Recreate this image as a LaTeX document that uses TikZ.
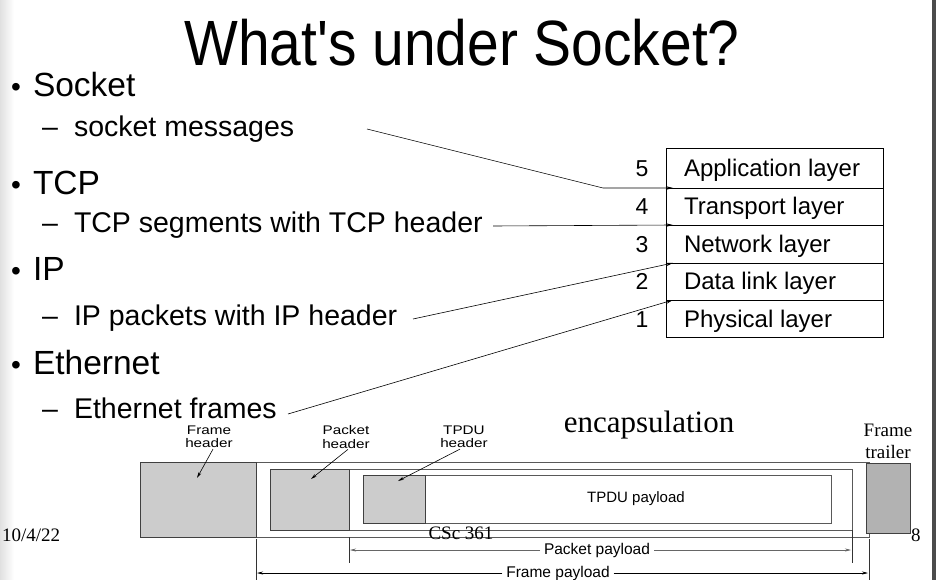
\documentclass[tikz,border=0pt]{standalone}
\usepackage{fontspec}
\usetikzlibrary{arrows.meta}
\newfontfamily\sansA{Liberation Sans}
\newfontfamily\serifT{Liberation Serif}
\newcommand\apos{{\char"0027}}

\tikzset{
  every node/.style={inner sep=0pt, outer sep=0pt},
  titletext/.style={anchor=base, xscale=0.89, font=\sansA\fontsize{64}{64}\selectfont},
  bulletmark/.style={anchor=base west, font=\sansA\fontsize{28}{28}\selectfont},
  bullettext/.style={anchor=base west, font=\sansA\fontsize{33.5}{33.5}\selectfont},
  subtext/.style={anchor=base west, font=\sansA\fontsize{28.5}{28.5}\selectfont},
  layertext/.style={anchor=base west, font=\sansA\fontsize{24}{24}\selectfont},
  layernum/.style={anchor=base, font=\sansA\fontsize{23}{23}\selectfont},
  tinylabel/.style={align=center, xscale=1.22, font=\sansA\fontsize{12.5}{13.5}\selectfont},
  dimlabel/.style={fill=white, inner xsep=4pt, font=\sansA\fontsize{15.5}{15.5}\selectfont},
  serifnote/.style={font=\serifT\fontsize{19}{19}\selectfont},
  ptr/.style={-{Stealth[length=7pt,width=3.5pt]}, line width=0.6pt},
  smallptr/.style={-{Stealth[length=6pt,width=3pt]}, line width=0.6pt},
  hdrbox/.style={draw=black!75, fill=black!20, line width=0.8pt},
  trailerbox/.style={draw=black!75, fill=black!30, line width=0.8pt},
  pduframe/.style={draw=black!65, line width=0.8pt},
  tick/.style={draw=black!80, line width=0.8pt},
}

\begin{document}
\begin{tikzpicture}[x=1pt,y=-1pt]
\useasboundingbox (0,0) rectangle (936,580);
\fill[white] (0,0) rectangle (936,580);
% slide edges
\shade[left color=black!12, right color=white] (0,0) rectangle (14,580);
\fill[black!70] (932,0) rectangle (936,580);

% title
\node[titletext] (title) at (462,66) {What\apos s under Socket?};

% bullet list
\node[bulletmark] (b1) at (11,97) {•};
\node[bullettext] (socket) at (33,97) {Socket};
\node[subtext] (d1) at (42,137) {–};
\node[subtext] (msgs) at (74,137) {socket messages};

\node[bulletmark] (b2) at (11,194) {•};
\node[bullettext] (tcp) at (33,194) {TCP};
\node[subtext] (d2) at (42,232) {–};
\node[subtext] (segs) at (74,232) {TCP segments with TCP header};

\node[bulletmark] (b3) at (11,280) {•};
\node[bullettext] (ip) at (33,280) {IP};
\node[subtext] (d3) at (42,325) {–};
\node[subtext] (pkts) at (74,325) {IP packets with IP header};

\node[bulletmark] (b4) at (11,374) {•};
\node[bullettext] (eth) at (33,374) {Ethernet};
\node[subtext] (d4) at (42,418) {–};
\node[subtext] (frames) at (74,418) {Ethernet frames};

% layer stack
\draw[line width=0.8pt] (666,148) rectangle (883,337);
\foreach \yy in {188,225,263,300} \draw[line width=0.8pt] (666,\yy) -- (883,\yy);
\node[layernum] (n5) at (642,177) {5};
\node[layertext] (l5) at (684,177) {Application layer};
\node[layernum] (n4) at (642,214) {4};
\node[layertext] (l4) at (684,214) {Transport layer};
\node[layernum] (n3) at (642,252) {3};
\node[layertext] (l3) at (684,252) {Network layer};
\node[layernum] (n2) at (642,289) {2};
\node[layertext] (l2) at (684,289) {Data link layer};
\node[layernum] (n1) at (642,327) {1};
\node[layertext] (l1) at (684,327) {Physical layer};

% connectors from the list to the layer boundaries
\coordinate (s1) at (367,129);
\coordinate (k1) at (603,188);
\coordinate (t1) at (673,188);
\coordinate (s2) at (493,226);
\coordinate (t2) at (673,225);
\coordinate (s3) at (413,319);
\coordinate (t3) at (673,263);
\coordinate (s4) at (288,414);
\coordinate (t4) at (673,300);
\draw[ptr] (s1) -- (k1) -- (t1);
\draw[ptr] (s2) -- (t2);
\draw[ptr] (s3) -- (t3);
\draw[ptr] (s4) -- (t4);

% encapsulation figure
\node[font=\serifT\fontsize{31}{31}\selectfont, anchor=base] (encap) at (649,432) {encapsulation};
\node[serifnote, anchor=base] (trl1) at (888,436) {Frame};
\node[serifnote, anchor=base] (trl2) at (888,458) {trailer};

\draw[pduframe] (256,462) rectangle (869,537);
\draw[hdrbox] (140,462) rectangle (256,537);
\draw[pduframe] (270,469) rectangle (852,530);
\draw[hdrbox] (270,469) rectangle (349,530);
\draw[pduframe] (363,475) rectangle (831,523);
\draw[hdrbox] (363,475) rectangle (425,523);
\draw[trailerbox] (866,463) rectangle (910,533);
\node[font=\sansA\fontsize{15}{15}\selectfont] (tpay) at (636,499) {TPDU payload};

\node[tinylabel] (fh) at (209,437) {Frame\\header};
\node[tinylabel] (ph) at (346,437) {Packet\\header};
\node[tinylabel] (th) at (464,437) {TPDU\\header};
\coordinate (fhp) at (197,478);
\coordinate (php) at (311,479);
\coordinate (thp) at (398,481);
\draw[smallptr] (fh.south) ++(4,1) -- (fhp);
\draw[smallptr] (ph.south) ++(2,1) -- (php);
\draw[smallptr] (th.south) ++(-4,1) -- (thp);

% payload dimension lines
\draw[tick] (349,537) -- (349,563);
\draw[tick] (852,530) -- (852,563);
\draw[tick] (256,539) -- (256,580);
\draw[tick] (869,539) -- (869,580);
\coordinate (pl) at (350,550);
\coordinate (pr) at (851,550);
\coordinate (fl) at (257,573);
\coordinate (fr) at (868,573);
\node[dimlabel] (ppay) at (597,550) {Packet payload};
\node[dimlabel] (fpay) at (558,573) {Frame payload};
\draw[smallptr, draw=black!60] (ppay.west) -- (pl);
\draw[smallptr, draw=black!60] (ppay.east) -- (pr);
\draw[smallptr] (fpay.west) -- (fl);
\draw[smallptr] (fpay.east) -- (fr);

% slide footer
\node[serifnote, anchor=base west] (date) at (2,541) {10/4/22};
\node[serifnote, anchor=base] (course) at (461,539) {CSc 361};
\node[serifnote, anchor=base west] (page) at (911,541) {8};
\end{tikzpicture}
\end{document}
